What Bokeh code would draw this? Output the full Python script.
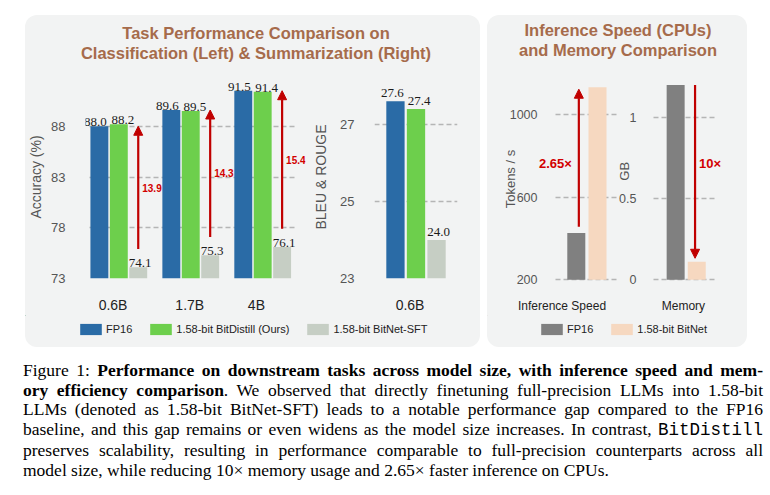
import math
from bokeh.plotting import figure
from bokeh.models import (ColumnDataSource, Arrow, NormalHead, Legend, LegendItem,
                          Div, FixedTicker, Label)
from bokeh.layouts import row, column
from bokeh.transform import dodge
from bokeh.embed import file_html
from bokeh.resources import INLINE

# ---------------- data ----------------
models = ["0.6B", "1.7B", "4B"]
acc_fp16 = [88.0, 89.6, 91.5]
acc_bitdistill = [88.2, 89.5, 91.4]
acc_sft = [74.1, 75.3, 76.1]
acc_ticks = [73, 78, 83, 88]

sum_models = ["0.6B"]
sum_fp16 = [27.6]
sum_bitdistill = [27.4]
sum_sft = [24.0]
sum_ticks = [23, 25, 27]

eff_metrics = ["Inference Speed", "Memory"]
speed_fp16 = [427]
speed_bitnet = [1135]
speed_ticks = [200, 600, 1000]
mem_fp16 = [1.20]
mem_bitnet = [0.11]
mem_ticks = [0, 0.5, 1]
speed_ratio = ["2.65×"]
mem_ratio = ["10×"]

series_names = ["FP16", "1.58-bit BitDistill (Ours)", "1.58-bit BitNet-SFT"]
eff_series = ["FP16", "1.58-bit BitNet"]

title_left = ["Task Performance Comparison on", "Classification (Left) &amp; Summarization (Right)"]
title_right = ["Inference Speed (CPUs)", "and Memory Comparison"]

caption_lines = [
    "Figure 1: <b>Performance on downstream tasks across model size, with inference speed and mem-</b>",
    "<b>ory efficiency comparison</b>. We observed that directly finetuning full-precision LLMs into 1.58-bit",
    "LLMs (denoted as 1.58-bit BitNet-SFT) leads to a notable performance gap compared to the FP16",
    "baseline, and this gap remains or even widens as the model size increases. In contrast, <span style=\"font-family:'Liberation Mono';\">BitDistill</span>",
    "preserves scalability, resulting in performance comparable to full-precision counterparts across all",
    "model size, while reducing 10× memory usage and 2.65× faster inference on CPUs.",
]

# ---------------- style ----------------
FONT = "Liberation Sans"
SERIF = "Liberation Serif"
C_BLUE = "#2a6ba6"
C_GREEN = "#6dcf4c"
C_SFT = "#c6cec4"
C_GREY = "#808080"
C_PEACH = "#f6d8c0"
RED_A = "#c00000"
RED_T = "#d20000"
PANEL = "#f2f3f3"
TITLE_C = "#a66b4b"
GRID_C = "#b5b5b5"
FRAME_H = 209
EXTRA_B = 8   # extra frame room below the baseline for the pinned tick labels (right panel)


def base_fig(w, h, xr, yr, mbl, mbr, mbt, mbb):
    p = figure(width=w, height=h, x_range=xr, y_range=yr, output_backend="svg",
               toolbar_location=None, min_border_left=mbl, min_border_right=mbr,
               min_border_top=mbt, min_border_bottom=mbb)
    p.background_fill_alpha = 0
    p.border_fill_alpha = 0
    p.outline_line_color = None
    p.xgrid.visible = False
    p.ygrid.grid_line_dash = "5 3"
    p.ygrid.grid_line_color = GRID_C
    p.ygrid.grid_line_width = 1.3
    xa, ya = p.xaxis[0], p.yaxis[0]
    for ax in (xa, ya):
        ax.axis_line_color = None
        ax.major_tick_line_color = None
        ax.minor_tick_line_color = None
        ax.major_label_text_font = FONT
        ax.axis_label_text_font = FONT
        ax.axis_label_text_font_style = "normal"
    ya.major_label_text_color = "#555555"
    ya.axis_label_text_color = "#555555"
    xa.major_label_text_color = "#222222"
    return p, xa, ya


def setup_axes(xa, ya, xticks, xlabels, xsize, xstand, yticks, ysize, ystand, ylabel, lsize,
               lstand, yover=None):
    xa.ticker = FixedTicker(ticks=xticks)
    xa.major_label_overrides = {t: m for t, m in zip(xticks, xlabels)}
    xa.major_label_text_font_size = xsize
    xa.major_label_standoff = xstand
    ya.ticker = FixedTicker(ticks=yticks)
    if yover:
        ya.major_label_overrides = yover
    ya.major_label_text_font_size = ysize
    ya.major_label_standoff = ystand
    if ylabel:
        ya.axis_label = ylabel
        ya.axis_label_text_font_size = lsize
        ya.axis_label_standoff = lstand


def limit_grid(p, ticks, x0, x1):
    # keep the dashed grid lines to the bar area, although the frame is wider
    try:
        p.ygrid.cross_bounds = (x0, x1)
    except Exception:
        p.ygrid.visible = False
        p.segment(x0=[x0] * len(ticks), x1=[x1] * len(ticks), y0=ticks, y1=ticks,
                  line_color=GRID_C, line_dash="5 3", line_width=1.3, level="underlay")


def value_labels(p, xs, ys, xoff, yoff):
    for x, y in zip(xs, ys):
        p.add_layout(Label(x=x, y=y, text=f"{y:.1f}", x_offset=xoff, y_offset=yoff,
                           text_font=SERIF, text_font_size="13px", text_align="center",
                           text_baseline="alphabetic", text_color="#1a1a1a"))


def red_labels(p, xs, ys, texts, xoff, yoff, align, size):
    for x, y, t in zip(xs, ys, texts):
        p.add_layout(Label(x=x, y=y, text=t, x_offset=xoff, y_offset=yoff,
                           text_align=align, text_baseline="middle", text_font=FONT,
                           text_font_style="bold", text_font_size=size, text_color=RED_T))


def side_label(p, x, y, text, xoff):
    p.add_layout(Label(x=x, y=y, text=text, x_offset=xoff, angle=math.pi / 2,
                       text_align="center", text_baseline="middle", text_font=FONT,
                       text_font_size="13px", text_color="#555555"))


def red_arrow(p, src):
    p.add_layout(Arrow(end=NormalHead(size=9, fill_color=RED_A, line_color=RED_A, line_width=1),
                       x_start="x", y_start="y0", x_end="x", y_end="y1", source=src,
                       line_color=RED_A, line_width=2.2))


# ---------------- Accuracy chart ----------------
acc_g = list(range(len(models)))
acc_src = ColumnDataSource(dict(g=acc_g, fp16=acc_fp16, bd=acc_bitdistill, sft=acc_sft))
STEP, BW = 0.27, 0.249
pa, pa_x, pa_y = base_fig(285, 243, (-0.463, 2.595), (73, 93.0), 59, 5, 3, 31)
setup_axes(pa_x, pa_y, [-0.08, 0.986, 1.913], models, "14px", 12, acc_ticks, "13px", 14,
           "Accuracy (%)", "14px", 4)
limit_grid(pa, acc_ticks, -0.408, 2.457)
for off, col, vals, c, lx in ((-STEP, "fp16", acc_fp16, C_BLUE, -4),
                              (0, "bd", acc_bitdistill, C_GREEN, 4),
                              (STEP, "sft", acc_sft, C_SFT, 2)):
    pa.vbar(x=dodge("g", off, range=pa.x_range), top=col, bottom=acc_ticks[0], width=BW,
            source=acc_src, fill_color=c, line_color=None)
    value_labels(pa, [g + off for g in acc_g], vals, lx, 4)
acc_ax = [g + STEP for g in acc_g]
acc_y0 = [v + 1.8 for v in acc_sft]
red_arrow(pa, ColumnDataSource(dict(x=acc_ax, y0=acc_y0, y1=acc_fp16)))
red_labels(pa, acc_ax, [(a + b) / 2 for a, b in zip(acc_y0, acc_fp16)],
           [f"{f - s:.1f}" for f, s in zip(acc_fp16, acc_sft)], 4, 0, "left", "10px")

# ---------------- BLEU chart ----------------
sum_src = ColumnDataSource(dict(g=[0], fp16=sum_fp16, bd=sum_bitdistill, sft=sum_sft))
pb, pb_x, pb_y = base_fig(170, 243, (-2.02, 2.02), (23, 28.27), 52, 23, 3, 31)
setup_axes(pb_x, pb_y, [-0.29], sum_models, "14px", 12, sum_ticks, "13px", 14,
           "BLEU & ROUGE", "14px", 8)
for off, col, vals, c, lx in ((-1, "fp16", sum_fp16, C_BLUE, -3),
                              (0, "bd", sum_bitdistill, C_GREEN, 3),
                              (1, "sft", sum_sft, C_SFT, 2)):
    pb.vbar(x=dodge("g", off, range=pb.x_range), top=col, bottom=sum_ticks[0], width=0.89,
            source=sum_src, fill_color=c, line_color=None)
    value_labels(pb, [off], vals, lx, 8)

# ---------------- Speed chart ----------------
SPD_RANGE = (200, 1191.7)
SPD_UPP = (SPD_RANGE[1] - SPD_RANGE[0]) / FRAME_H       # data units per pixel
SPD_LEFT = -1.48           # left end of the bar area; frame extends further left
spd_src = ColumnDataSource(dict(g=[0], fp16=speed_fp16, bn=speed_bitnet))
ps, ps_x, ps_y = base_fig(131, 243, (-4.687, 1.443),
                          (SPD_RANGE[0] - EXTRA_B * SPD_UPP, SPD_RANGE[1]),
                          0, 1, 3, 31 - EXTRA_B)
setup_axes(ps_x, ps_y, [0], eff_metrics[:1], "12px", 13 - EXTRA_B, speed_ticks, "12.5px", 12,
           None, None, None)
ps_y.fixed_location = SPD_LEFT
limit_grid(ps, speed_ticks, SPD_LEFT, 1.443)
side_label(ps, SPD_LEFT, SPD_RANGE[0] + (284 - 181) * SPD_UPP, "Tokens / s", -45)
ps.vbar(x=dodge("g", -0.5, range=ps.x_range), top="fp16", bottom=speed_ticks[0], width=0.85,
        source=spd_src, fill_color=C_GREY, line_color=None)
ps.vbar(x=dodge("g", 0.5, range=ps.x_range), top="bn", bottom=speed_ticks[0], width=0.85,
        source=spd_src, fill_color=C_PEACH, line_color=None)
spd_x = [-0.38]
spd_y0 = [speed_fp16[0] + 30]
spd_y1 = [speed_bitnet[0] - 10]
red_arrow(ps, ColumnDataSource(dict(x=spd_x, y0=spd_y0, y1=spd_y1)))
red_labels(ps, spd_x, [(spd_y0[0] + spd_y1[0]) / 2], speed_ratio, -7, -5, "right", "13px")

# ---------------- Memory chart ----------------
MEM_RANGE = (0, 1.259)
MEM_UPP = (MEM_RANGE[1] - MEM_RANGE[0]) / FRAME_H
MEM_LEFT = -1.55
mem_src = ColumnDataSource(dict(g=[0], fp16=mem_fp16, bn=mem_bitnet))
pm, pm_x, pm_y = base_fig(129, 243, (-3.209, 2.005),
                          (MEM_RANGE[0] - EXTRA_B * MEM_UPP, MEM_RANGE[1]),
                          0, 19, 3, 31 - EXTRA_B)
setup_axes(pm_x, pm_y, [-0.13], eff_metrics[1:], "12px", 13 - EXTRA_B, mem_ticks, "12.5px", 11,
           None, None, None, yover={0: "0", 0.5: "0.5", 1: "1"})
pm_y.fixed_location = MEM_LEFT
limit_grid(pm, mem_ticks, MEM_LEFT, 1.436)
side_label(pm, MEM_LEFT, MEM_RANGE[0] + (284 - 173) * MEM_UPP, "GB", -29)
pm.vbar(x=dodge("g", -0.5, range=pm.x_range), top="fp16", bottom=mem_ticks[0], width=0.853,
        source=mem_src, fill_color=C_GREY, line_color=None)
pm.vbar(x=dodge("g", 0.5, range=pm.x_range), top="bn", bottom=mem_ticks[0], width=0.853,
        source=mem_src, fill_color=C_PEACH, line_color=None)
mem_x = [0.42]
mem_y0 = [mem_fp16[0]]
mem_y1 = [mem_bitnet[0] + 0.022]
red_arrow(pm, ColumnDataSource(dict(x=mem_x, y0=mem_y0, y1=mem_y1)))
red_labels(pm, mem_x, [(mem_y0[0] + mem_y1[0]) / 2], mem_ratio, 4, 8, "left", "13px")


# ---------------- legends ----------------
def legend_fig(w, x0, entries):
    # bars drawn from the real sources lie far outside this figure's view;
    # only their legend swatches show
    f = figure(width=w, height=32, x_range=(100, 101), y_range=(-101, -100),
               output_backend="svg", toolbar_location=None, min_border=0,
               x_axis_location=None, y_axis_location=None)
    f.background_fill_alpha = 0
    f.border_fill_alpha = 0
    f.outline_line_color = None
    f.grid.visible = False
    items = []
    for n, src, col, bot, c in entries:
        r = f.vbar(x="g", top=col, bottom=bot, width=0.1, source=src, fill_color=c,
                   line_color=None)
        items.append(LegendItem(label=n, renderers=[r]))
    lg = Legend(items=items, orientation="horizontal", location=(x0, 11),
                glyph_width=27, glyph_height=14, label_standoff=2, spacing=15,
                padding=0, margin=0, border_line_color=None, background_fill_alpha=0,
                label_text_font=FONT, label_text_font_size="11px",
                label_text_color="#222222", label_height=14)
    f.add_layout(lg)
    return f


leg_left = legend_fig(455, 52, [
    (series_names[0], acc_src, "fp16", acc_ticks[0], C_BLUE),
    (series_names[1], acc_src, "bd", acc_ticks[0], C_GREEN),
    (series_names[2], acc_src, "sft", acc_ticks[0], C_SFT),
])
leg_right = legend_fig(260, 51, [
    (eff_series[0], spd_src, "fp16", speed_ticks[0], C_GREY),
    (eff_series[1], spd_src, "bn", speed_ticks[0], C_PEACH),
])


def title_div(lines, w, pad_top, pad_left):
    html = ("<div style=\"width:%dpx;text-align:center;font-family:'Liberation Sans';"
            "font-weight:bold;font-size:16.5px;line-height:20px;color:%s;padding-top:%dpx;"
            "padding-left:%dpx;box-sizing:border-box;\">%s</div>"
            % (w, TITLE_C, pad_top, pad_left, "<br>".join(lines)))
    return Div(text=html, width=w, height=57, margin=0)


panel_styles = {"background-color": PANEL, "border-radius": "12px"}
left_panel = column(title_div(title_left, 455, 8, 7), row(pa, pb), leg_left,
                    styles=panel_styles, width=455, height=332, margin=(15, 0, 0, 25))
right_panel = column(title_div(title_right, 260, 5, 2), row(ps, pm), leg_right,
                     styles=panel_styles, width=260, height=332, margin=(15, 0, 0, 7))

cap_html = "".join(
    "<div style=\"text-align:justify;text-align-last:%s;\">%s</div>"
    % ("justify" if i < len(caption_lines) - 1 else "left", ln)
    for i, ln in enumerate(caption_lines))
caption = Div(text=("<div style=\"width:740px;font-family:'Liberation Serif';font-size:17.5px;"
                    "line-height:19.7px;color:#000;\">%s</div>" % cap_html),
              width=740, height=122, margin=(14, 0, 0, 23))

root = column(row(left_panel, right_panel), caption)

open("out.html", "w").write(file_html(root, INLINE))
